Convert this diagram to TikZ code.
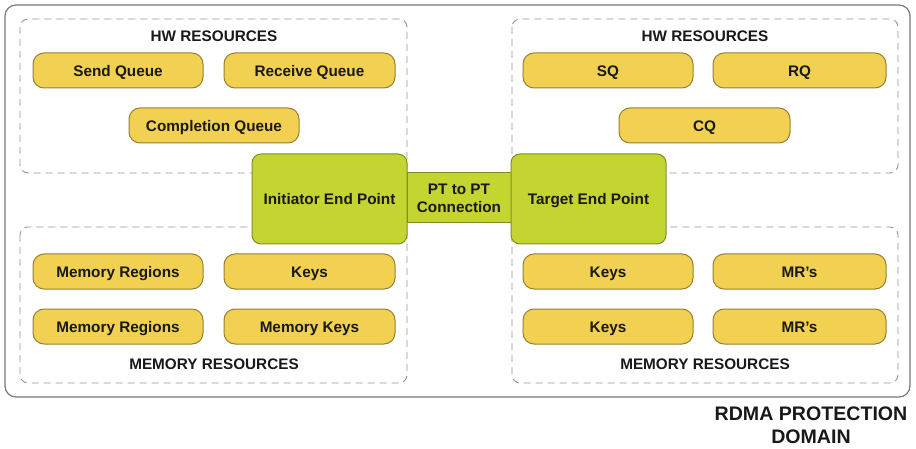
\documentclass[tikz,border=0pt]{standalone}
\usepackage{fontspec}
\setmainfont{Liberation Sans}
\definecolor{pillfill}{RGB}{242,208,82}
\definecolor{pilldraw}{RGB}{150,128,50}
\definecolor{greenfill}{RGB}{196,212,48}
\definecolor{greendraw}{RGB}{125,145,35}
\definecolor{txt}{RGB}{25,25,25}
\definecolor{frame}{RGB}{120,120,120}
\definecolor{dashc}{RGB}{150,150,150}
\begin{document}
\begin{tikzpicture}[x=1pt,y=-1pt,
  pill/.style={draw=pilldraw,fill=pillfill,line width=1pt,rounded corners=11pt,inner sep=0pt,
    text height=12pt,text depth=0pt,
    font=\fontsize{15.3}{17}\selectfont\bfseries,text=txt},
  green/.style={draw=greendraw,fill=greenfill,line width=1pt,inner sep=0pt,
    font=\fontsize{15.3}{18}\selectfont\bfseries,text=txt,align=center},
  dashbox/.style={draw=dashc,dashed,dash pattern=on 7pt off 5pt,line width=0.9pt,rounded corners=8pt},
  lbl/.style={font=\fontsize{15.3}{17}\selectfont\bfseries,text=txt,inner sep=0pt}]
\useasboundingbox (0,0) rectangle (916,449);
\fill[white] (0,0) rectangle (916,449);
% outer domain
\draw[frame,line width=1.2pt,rounded corners=11pt] (5,5) rectangle (910,397);
% dashed groups
\draw[dashbox] (20,19) rectangle (407,173);
\draw[dashbox] (20,227) rectangle (407,383);
\draw[dashbox] (512,19) rectangle (898,173);
\draw[dashbox] (512,227) rectangle (898,383);
% labels
\node[lbl] (hwl) at (214,36) {HW RESOURCES};
\node[lbl] (hwr) at (705,36) {HW RESOURCES};
\node[lbl] (mrl) at (214,364) {MEMORY RESOURCES};
\node[lbl] (mrr) at (705,364) {MEMORY RESOURCES};
% left HW
\node[pill,minimum width=170pt,minimum height=35pt] (sendq) at (118,70.5) {Send Queue};
\node[pill,minimum width=171pt,minimum height=35pt] (recvq) at (309.5,70.5) {Receive Queue};
\node[pill,minimum width=170pt,minimum height=35pt] (compq) at (214,125.5) {Completion Queue};
% right HW
\node[pill,minimum width=170pt,minimum height=35pt] (sq) at (608,70.5) {SQ};
\node[pill,minimum width=173pt,minimum height=35pt] (rq) at (799.5,70.5) {RQ};
\node[pill,minimum width=171pt,minimum height=35pt] (cq) at (704.5,125.5) {CQ};
% left memory
\node[pill,minimum width=170pt,minimum height=35pt] (mr1) at (118,271.5) {Memory Regions};
\node[pill,minimum width=171pt,minimum height=35pt] (k1) at (309.5,271.5) {Keys};
\node[pill,minimum width=170pt,minimum height=35pt] (mr2) at (118,326.5) {Memory Regions};
\node[pill,minimum width=171pt,minimum height=35pt] (mk) at (309.5,326.5) {Memory Keys};
% right memory
\node[pill,minimum width=170pt,minimum height=35pt] (k2) at (608,271.5) {Keys};
\node[pill,minimum width=173pt,minimum height=35pt] (mrs1) at (799.5,271.5) {MR’s};
\node[pill,minimum width=170pt,minimum height=35pt] (k3) at (608,326.5) {Keys};
\node[pill,minimum width=173pt,minimum height=35pt] (mrs2) at (799.5,326.5) {MR’s};
% connection
\node[green,minimum width=104pt,minimum height=50pt] (conn) at (459,198) {PT to PT\\Connection};
\node[green,rounded corners=9pt,minimum width=155pt,minimum height=90pt,text height=12pt,text depth=0pt] (init) at (329.5,199) {Initiator End Point};
\node[green,rounded corners=9pt,minimum width=155pt,minimum height=90pt,text height=12pt,text depth=0pt] (targ) at (588.5,199) {Target End Point};
% domain label
\node[font=\fontsize{19.6}{23}\selectfont\bfseries,text=txt,align=center,inner sep=0pt] (dom) at (811,425) {RDMA PROTECTION\\DOMAIN};
\end{tikzpicture}
\end{document}
